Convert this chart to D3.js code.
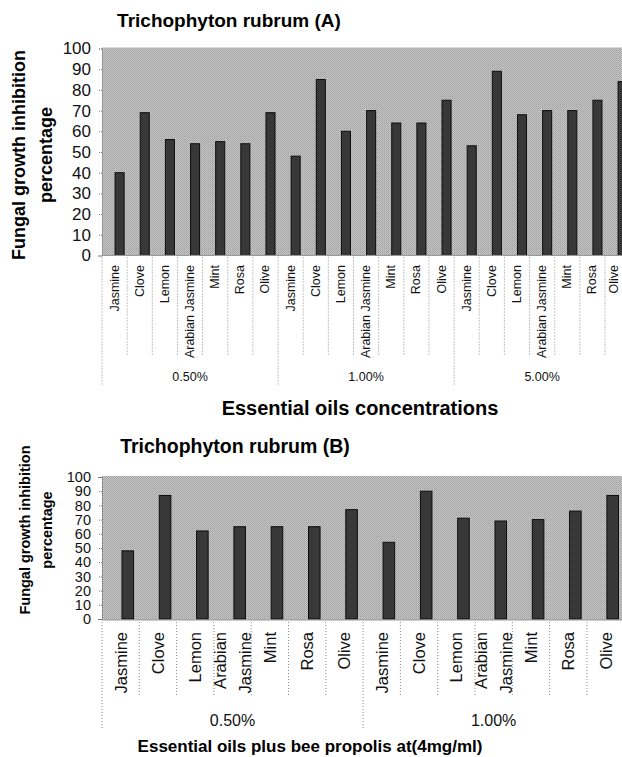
<!DOCTYPE html>
<html>
<head>
<meta charset="utf-8">
<script src="https://cdn.jsdelivr.net/npm/d3@7"></script>
<style>
  html, body { margin: 0; padding: 0; background: #fff; }
  svg { display: block; font-family: Arial, "Liberation Sans", sans-serif; }
</style>
</head>
<body>
<svg id="chart" width="622" height="757"></svg>
<script>
// ---------- data ----------
const oils = ["Jasmine", "Clove", "Lemon", "Arabian Jasmine", "Mint", "Rosa", "Olive"];
const groupsA = ["0.50%", "1.00%", "5.00%"];
const valuesA = [40, 69, 56, 54, 55, 54, 69,
                 48, 85, 60, 70, 64, 64, 75,
                 53, 89, 68, 70, 70, 75, 84];
const groupsB = ["0.50%", "1.00%"];
const valuesB = [48, 87, 62, 65, 65, 65, 77,
                 54, 90, 71, 69, 70, 76, 87];
const yTicks = [0, 10, 20, 30, 40, 50, 60, 70, 80, 90, 100];
const titleA = "Trichophyton rubrum (A)";
const titleB = "Trichophyton rubrum (B)";
const xTitleA = "Essential oils concentrations";
const xTitleB = "Essential oils plus bee propolis at(4mg/ml)";
const yTitleLines = ["Fungal growth inhibition", "percentage"];

// ---------- drawing ----------
const svg = d3.select("#chart");
const defs = svg.append("defs");
const pat = defs.append("pattern").attr("id", "halftone")
  .attr("width", 2).attr("height", 2).attr("patternUnits", "userSpaceOnUse");
pat.append("rect").attr("width", 2).attr("height", 2).attr("fill", "#c6c6c6");
pat.append("rect").attr("width", 1).attr("height", 1).attr("fill", "#a0a0a0");
pat.append("rect").attr("x", 1).attr("y", 1).attr("width", 1).attr("height", 1).attr("fill", "#aaaaaa");

function drawChart(cfg) {
  const groups = cfg.groups;
  const cats = [];
  groups.forEach((g, gi) => oils.forEach((o, oi) => cats.push({ g, gi, o, i: gi * oils.length + oi })));
  const n = cats.length;
  const x = d3.scaleBand().domain(d3.range(n)).range([cfg.left, cfg.left + n * cfg.band]).paddingInner(0).paddingOuter(0);
  const y = d3.scaleLinear().domain([0, 100]).range([cfg.y0, cfg.y100]);
  const bw = x.bandwidth();
  const g = svg.append("g");

  // plot background
  g.append("rect")
    .attr("x", cfg.left).attr("y", cfg.plotTop)
    .attr("width", 622 - cfg.left).attr("height", cfg.plotBottom - cfg.plotTop)
    .attr("fill", "url(#halftone)");

  // left axis (dotted) with ticks
  const yAxis = d3.axisLeft(y).tickValues(yTicks).tickSize(4).tickPadding(8);
  const ya = g.append("g").attr("transform", `translate(${cfg.left},0)`).call(yAxis);
  ya.select(".domain").attr("stroke", "#777").attr("stroke-dasharray", "1,1");
  ya.selectAll(".tick line").attr("stroke", "#777").attr("stroke-dasharray", "1,1");
  ya.selectAll(".tick text")
    .attr("font-size", cfg.yFont).attr("fill", "#111")
    .attr("font-family", "Arial, 'Liberation Sans', sans-serif")
    .attr("x", cfg.yLabelRight - cfg.left);

  // bars
  g.selectAll("rect.bar").data(cats).enter().append("rect")
    .attr("class", "bar")
    .attr("x", d => x(d.i) + bw * cfg.barOff)
    .attr("width", bw * cfg.barW)
    .attr("y", d => y(cfg.values[d.i]))
    .attr("height", d => y(0) - y(cfg.values[d.i]))
    .attr("fill", "#383838").attr("stroke", "#0d0d0d").attr("stroke-width", 1);

  // bottom axis line
  g.append("line").attr("x1", cfg.left).attr("x2", 622)
    .attr("y1", cfg.plotBottom).attr("y2", cfg.plotBottom)
    .attr("stroke", "#999").attr("stroke-width", 1);

  // category separators
  d3.range(n + 1).forEach(k => {
    const xx = cfg.left + k * bw;
    const isGroup = k % oils.length === 0;
    g.append("line")
      .attr("x1", xx).attr("x2", xx)
      .attr("y1", cfg.plotBottom + 2)
      .attr("y2", isGroup ? cfg.sepGroupEnd : cfg.sepEnd)
      .attr("stroke", "#888").attr("stroke-width", 1).attr("stroke-dasharray", "1,2");
  });

  // category labels
  cats.forEach(d => {
    const cx = Math.min(x(d.i) + bw / 2, cfg.labelMaxX);
    const t = g.append("text")
      .attr("transform", `translate(${cx},${cfg.labelTop}) rotate(-90)`)
      .attr("text-anchor", "end")
      .attr("font-size", cfg.xFont).attr("fill", "#111");
    if (cfg.wrap && d.o.includes(" ")) {
      const parts = d.o.split(" ");
      t.append("tspan").attr("x", 0).attr("dy", (-cfg.wrapGap / 2) + "px").text(parts[0])
        .attr("dominant-baseline", "central");
      t.append("tspan").attr("x", 0).attr("dy", cfg.wrapGap + "px").text(parts[1])
        .attr("dominant-baseline", "central");
    } else {
      t.attr("dominant-baseline", "central").text(d.o);
    }
  });

  // group labels
  groups.forEach((gr, gi) => {
    const gx = cfg.left + (gi * oils.length + oils.length / 2) * bw;
    g.append("text").attr("x", gx).attr("y", cfg.groupY)
      .attr("text-anchor", "middle").attr("font-size", cfg.groupFont).attr("fill", "#111")
      .text(gr);
  });

  // chart title
  g.append("text").attr("x", cfg.titleX).attr("y", cfg.titleY)
    .attr("text-anchor", "middle").attr("font-weight", "bold")
    .attr("font-size", cfg.titleFont).attr("fill", "#000").text(cfg.title);

  // x axis title
  g.append("text").attr("x", cfg.xTitleX).attr("y", cfg.xTitleY)
    .attr("text-anchor", "middle").attr("font-weight", "bold")
    .attr("font-size", cfg.xTitleFont).attr("fill", "#000").text(cfg.xTitle);

  // y axis title
  const yt = g.append("text")
    .attr("transform", `translate(${cfg.yTitleX},${cfg.yTitleY}) rotate(-90)`)
    .attr("text-anchor", "middle").attr("font-weight", "bold")
    .attr("font-size", cfg.yTitleFont).attr("fill", "#000");
  yt.append("tspan").attr("x", 0).attr("dy", (-cfg.yTitleGap / 2) + "px")
    .attr("dominant-baseline", "central").text(yTitleLines[0]);
  yt.append("tspan").attr("x", 0).attr("dy", cfg.yTitleGap + "px")
    .attr("dominant-baseline", "central").text(yTitleLines[1]);
}

drawChart({
  groups: groupsA, values: valuesA,
  left: 102, band: 25.15, barOff: 0.52, barW: 0.36,
  y0: 255.5, y100: 48.5, plotTop: 47.5, plotBottom: 255.5,
  yFont: 17, yLabelRight: 91,
  labelTop: 265, labelMaxX: 614, xFont: 12.5, wrap: false,
  sepEnd: 355, sepGroupEnd: 385,
  groupY: 381, groupFont: 12.5,
  title: titleA, titleX: 229, titleY: 27, titleFont: 19,
  xTitle: xTitleA, xTitleX: 360, xTitleY: 415, xTitleFont: 20,
  yTitleX: 32.5, yTitleY: 155, yTitleGap: 27, yTitleFont: 18
});

drawChart({
  groups: groupsB, values: valuesB,
  left: 102, band: 37.3, barOff: 0.536, barW: 0.31,
  y0: 619, y100: 477, plotTop: 476, plotBottom: 620,
  yFont: 14.5, yLabelRight: 91,
  labelTop: 632, labelMaxX: 622, xFont: 16.5, wrap: true, wrapGap: 25,
  sepEnd: 697, sepGroupEnd: 728,
  groupY: 726, groupFont: 16,
  title: titleB, titleX: 235, titleY: 453, titleFont: 19.5,
  xTitle: xTitleB, xTitleX: 310, xTitleY: 752, xTitleFont: 17,
  yTitleX: 35.5, yTitleY: 530, yTitleGap: 22, yTitleFont: 14.5
});
</script>
</body>
</html>
